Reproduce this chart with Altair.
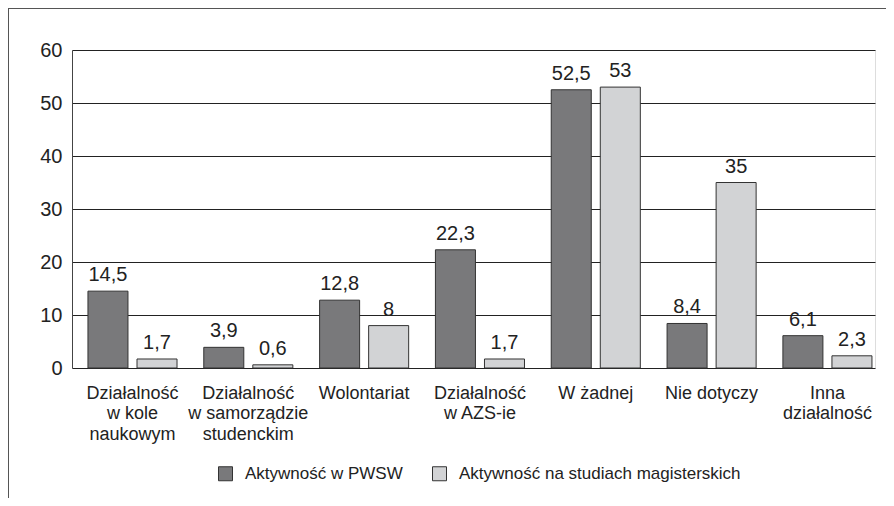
import altair as alt
import pandas as pd

categories = [
    "Działalność|w kole|naukowym",
    "Działalność|w samorządzie|studenckim",
    "Wolontariat",
    "Działalność|w AZS-ie",
    "W żadnej",
    "Nie dotyczy",
    "Inna|działalność",
]
series_names = ["Aktywność w PWSW", "Aktywność na studiach magisterskich"]
pwsw = [14.5, 3.9, 12.8, 22.3, 52.5, 8.4, 6.1]
magister = [1.7, 0.6, 8, 1.7, 53, 35, 2.3]
colors = ["#79797b", "#d2d3d5"]

rows = []
for cat, a, b in zip(categories, pwsw, magister):
    for s, v in zip(series_names, (a, b)):
        rows.append({"cat": cat, "series": s, "value": v,
                     "label": f"{v:g}".replace(".", ",")})
df = pd.DataFrame(rows)

FONT = "Liberation Sans"

x = alt.X("cat:N", sort=categories, title=None,
          scale=alt.Scale(paddingInner=0.231, paddingOuter=0.082, align=0.84),
          axis=alt.Axis(labelExpr="split(datum.label, '|')", labelAngle=0,
                        labelFontSize=18, labelLineHeight=20.5, labelPadding=16,
                        labelColor="#222", ticks=False, domain=False,
                        labelFont=FONT, labelBaseline="top"))
xo = alt.XOffset("series:N", sort=series_names,
                 scale=alt.Scale(domain=series_names, paddingInner=0.184, paddingOuter=0))
y = alt.Y("value:Q", title=None,
          scale=alt.Scale(domain=[0, 60], nice=False),
          axis=alt.Axis(values=[0, 10, 20, 30, 40, 50, 60], labelFontSize=20,
                        labelColor="#222", labelPadding=10, tickSize=0,
                        domainColor="#444", gridColor="#222", gridWidth=1,
                        labelFont=FONT))

base = alt.Chart(df)

bars = base.mark_bar(stroke="#333", strokeWidth=1).encode(
    x=x, xOffset=xo, y=y,
    color=alt.Color("series:N", sort=series_names,
                    scale=alt.Scale(domain=series_names, range=colors),
                    legend=alt.Legend(title=None, orient="none", legendX=145, legendY=415,
                                      direction="horizontal", symbolType="square",
                                      symbolSize=196, symbolStrokeColor="#333",
                                      symbolStrokeWidth=1, labelFontSize=17,
                                      labelColor="#222", labelOffset=11, labelLimit=0,
                                      columnPadding=27, labelFont=FONT, padding=0)),
)

labels = base.mark_text(fontSize=20, color="#222", baseline="alphabetic", dy=-10,
                        font=FONT).encode(
    x=x, xOffset=xo, y=y, text="label:N"
)

one = alt.Data(values=[{"k": 1}])
frame_top = alt.Chart(one).mark_rule(color="#555", strokeWidth=1).encode(
    x=alt.value(-65.5), x2=alt.value(814), y=alt.value(-41.5)
)
frame_left = alt.Chart(one).mark_rule(color="#555", strokeWidth=1).encode(
    x=alt.value(-63.5), y=alt.value(-42), y2=alt.value(453)
)

chart = alt.layer(bars, labels, frame_top, frame_left).properties(
    width=803, height=318,
    padding={"left": 64, "top": 42, "right": 11, "bottom": 130},
    autosize=alt.AutoSizeParams(type="none"),
).configure_view(stroke="#444", strokeWidth=1).configure(font=FONT)

chart.save("out.html", embed_options={"renderer": "svg", "actions": False})
